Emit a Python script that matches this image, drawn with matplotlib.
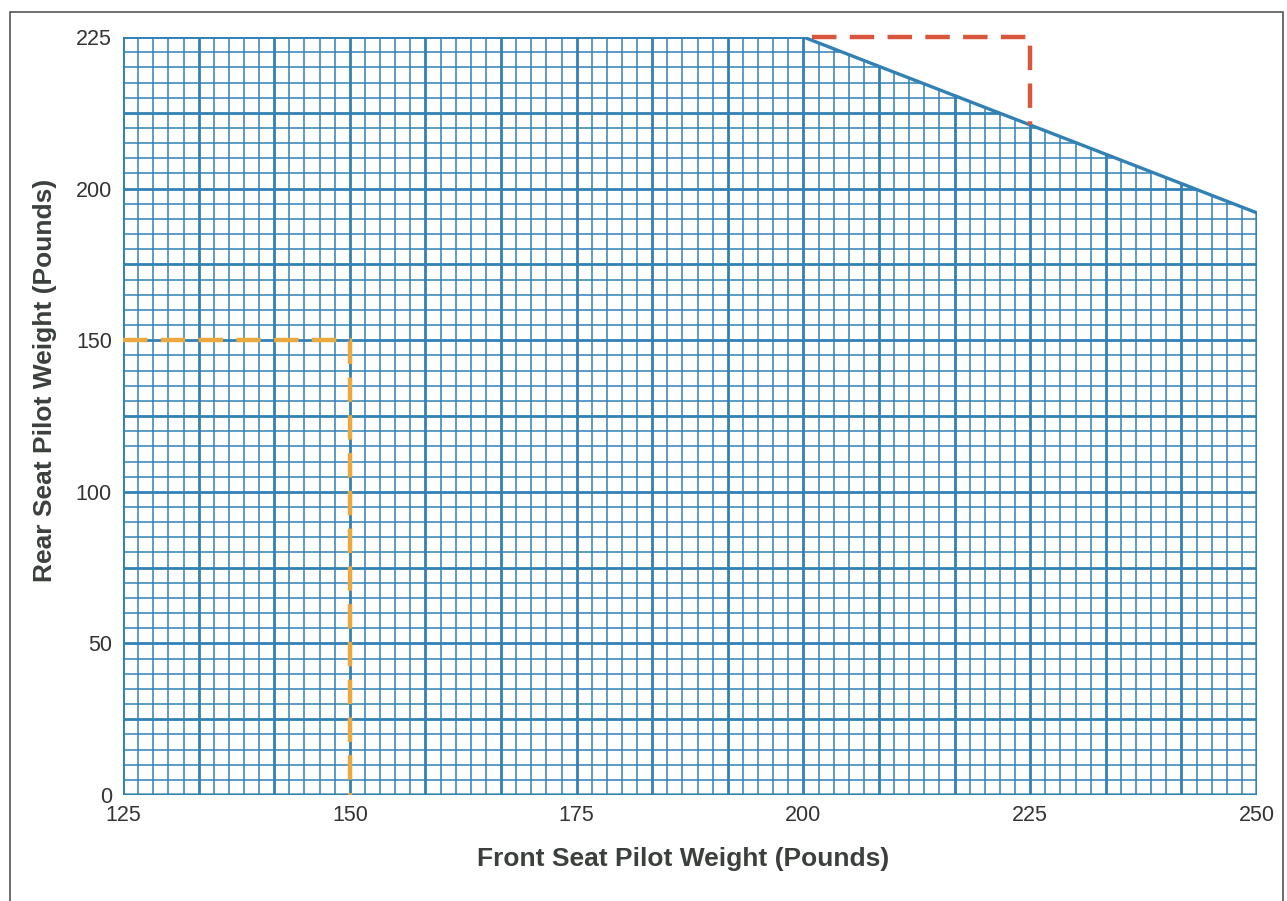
import numpy as np
import matplotlib.pyplot as plt
from matplotlib.patches import Polygon, Rectangle

plt.rcParams['font.family'] = ['Liberation Sans', 'DejaVu Sans']

# envelope of the allowed loading (front seat, rear seat)
env_x = [125, 125, 200, 250, 250]
env_y = [0, 250, 250, 192, 0]

# example lines
red_x = [201, 225, 225]
red_y = [250, 250, 221]
orange_x = [125, 150, 150]
orange_y = [150, 150, 0]

xticks = [125, 150, 175, 200, 225, 250]
yticks = [0, 50, 100, 150, 200, 250]
ylabels = ['0', '50', '100', '150', '200', '225']

blue = '#3281b5'

fig = plt.figure(figsize=(12.87, 9.01), dpi=100)
ax = fig.add_axes([0.0956, 0.1176, 0.8811, 0.8413])
ax.set_xlim(125, 250)
ax.set_ylim(0, 250)

env = Polygon(np.column_stack([env_x, env_y]), closed=True, fill=False,
              edgecolor=blue, lw=2.4, zorder=3)
ax.add_patch(env)

clip = Polygon(np.column_stack([env_x, env_y]), closed=True,
               transform=ax.transData)

# grid paper
for i, x in enumerate(np.linspace(125, 250, 76)):
    lw = 2.0 if i % 5 == 0 else 1.1
    ln, = ax.plot([x, x], [0, 250], color=blue, lw=lw, zorder=2)
    ln.set_clip_path(clip)
for j, y in enumerate(np.arange(0, 251, 5)):
    lw = 2.0 if j % 5 == 0 else 1.1
    ln, = ax.plot([125, 250], [y, y], color=blue, lw=lw, zorder=2)
    ln.set_clip_path(clip)

ax.plot(red_x, red_y, color='#d9553c', lw=3.2, dashes=(5.5, 3), zorder=4,
        clip_on=False)
ax.plot(orange_x, orange_y, color='#e9a93f', lw=3.2, dashes=(5.5, 3), zorder=4,
        clip_on=False)

for s in ax.spines.values():
    s.set_visible(False)
ax.set_xticks(xticks)
ax.set_yticks(yticks)
ax.set_yticklabels(ylabels)
ax.tick_params(length=0, labelsize=15.5, labelcolor='#333333')
ax.tick_params(axis='x', pad=7)
ax.tick_params(axis='y', pad=8)

ax.set_xlabel('Front Seat Pilot Weight (Pounds)', fontsize=19, fontweight='bold',
              color='#3b403c')
ax.set_ylabel('Rear Seat Pilot Weight (Pounds)', fontsize=19, fontweight='bold',
              color='#3b403c')
ax.xaxis.set_label_coords(0.494, -0.068)
ax.yaxis.set_label_coords(-0.058, 0.547)

# page border of the scan
fig.add_artist(Rectangle((0.008, -0.01), 0.989, 0.997, transform=fig.transFigure,
                         fill=False, edgecolor='#555555', lw=1.2))

fig.savefig('out.png', dpi=100)
